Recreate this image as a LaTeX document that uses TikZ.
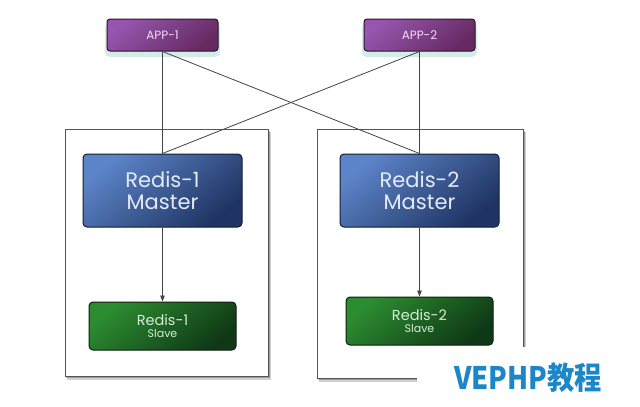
\documentclass[tikz,border=0pt]{standalone}
\usepackage{fontspec}
\usepackage{graphicx}
\newfontfamily\gothic{Poppins}
\newfontfamily\cjk{Noto Sans CJK SC}
\usetikzlibrary{arrows.meta}
\definecolor{applight}{HTML}{9655AE}
\definecolor{appdark}{HTML}{662A62}
\definecolor{appborder}{HTML}{2A1528}
\definecolor{apptext}{HTML}{EEDCF2}
\definecolor{appglow}{HTML}{D3ECE8}
\definecolor{mlight}{HTML}{5C84C8}
\definecolor{mdark}{HTML}{1F3463}
\definecolor{mborder}{HTML}{161C2C}
\definecolor{mtext}{HTML}{E4EBF7}
\definecolor{slight}{HTML}{2C8C30}
\definecolor{sdark}{HTML}{0F3916}
\definecolor{sborder}{HTML}{0B1E0C}
\definecolor{stext}{HTML}{D6ECD6}
\definecolor{linec}{HTML}{444444}
\definecolor{boxc}{HTML}{555555}
\definecolor{wmark}{HTML}{1B86C8}
\begin{document}
\begin{tikzpicture}[x=1pt,y=-1pt,
  container/.style={draw=boxc, line width=0.9pt, fill=white},
  shadowa/.style={fill=black, opacity=0.18},
  shadowb/.style={fill=black, opacity=0.25},
  glow/.style={fill=appglow, rounded corners=5pt},
  appbox/.style={rounded corners=3pt, draw=appborder, line width=1pt,
    minimum width=111pt, minimum height=32pt, top color=applight, bottom color=appdark,
    shading angle=40, text=apptext, font=\gothic\fontsize{12}{12}\selectfont},
  masterbox/.style={rounded corners=4pt, draw=mborder, line width=1pt,
    minimum width=159pt, minimum height=73pt, top color=mlight, bottom color=mdark,
    shading angle=40, text=mtext, align=center, font=\gothic\fontsize{21}{22}\selectfont},
  slavebox/.style={rounded corners=4pt, draw=sborder, line width=1pt,
    minimum width=147pt, minimum height=48pt, top color=slight, bottom color=sdark,
    shading angle=40, text=stext, align=center, font=\gothic\fontsize{14.5}{12}\selectfont},
  link/.style={draw=linec, line width=0.8pt},
  repl/.style={draw=linec, line width=0.8pt, -{Triangle[length=6pt,width=4.5pt]}}
]
\useasboundingbox (0,0) rectangle (640,407);
\fill[white] (0,0) rectangle (640,407);

% container shadows
\path[shadowa] (67,132) rectangle (271,380);
\path[shadowb] (66,131) rectangle (269.5,378);
\path[shadowa] (319,132) rectangle (526,382);
\path[shadowb] (318,131) rectangle (524.5,380);
% containers
\path[container] (65,129) rectangle (268,376);
\path[container] (317,129) rectangle (523,378);

% app glows
\path[glow] (105,22) rectangle (220,57);
\path[glow] (362,22) rectangle (477,57);

% nodes
\node[appbox] (app1) at (162.5,35) {APP-1};
\node[appbox] (app2) at (419.5,35) {APP-2};
\node[masterbox] (m1) at (162.5,190.5) {Redis-1\\Master};
\node[masterbox] (m2) at (419.5,190.5) {Redis-2\\Master};
\node[slavebox] (s1) at (162.5,326) {Redis-1\\{\fontsize{11}{12}\selectfont Slave}};
\node[slavebox] (s2) at (419.5,321) {Redis-2\\{\fontsize{11}{12}\selectfont Slave}};

% connectors
\draw[link] (app1.south) -- (m1.north);
\draw[link] (app1.south) -- (m2.north);
\draw[link] (app2.south) -- (m1.north);
\draw[link] (app2.south) -- (m2.north);
\draw[repl] (m1.south) -- (s1.north);
\draw[repl] (m2.south) -- (s2.north);

% watermark
\fill[white] (417,346.5) rectangle (640,407);
\node[text=wmark, font=\cjk\bfseries\fontsize{31}{31}\selectfont, inner sep=0pt] (wm) at (528,378) {\scalebox{0.88}[1]{VEPHP教程}};
\end{tikzpicture}
\end{document}
